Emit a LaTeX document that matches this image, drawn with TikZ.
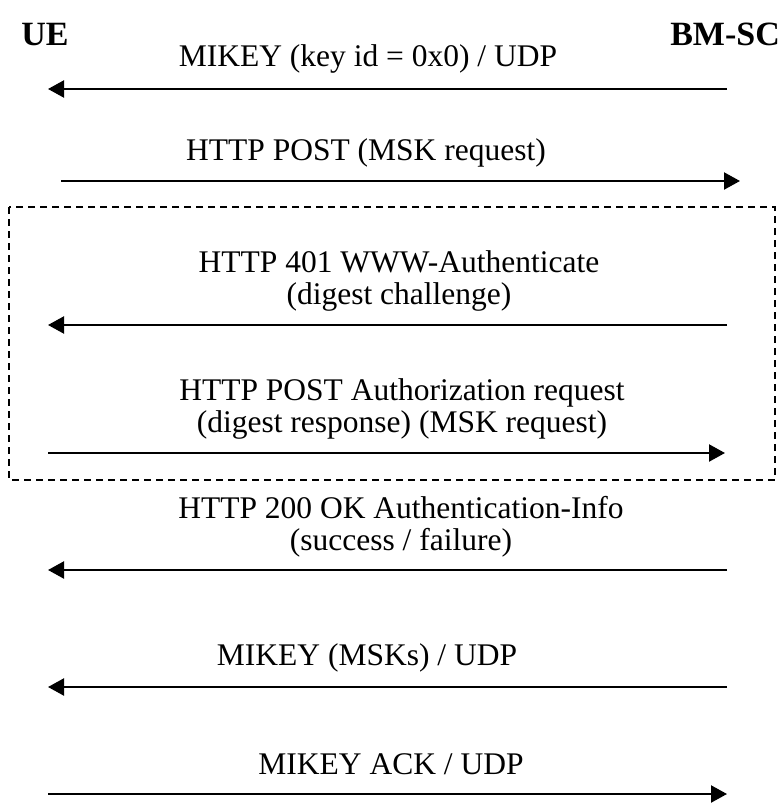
\documentclass[tikz,border=0pt]{standalone}
\usepackage{fontspec}
\setmainfont{Liberation Serif}
\usetikzlibrary{arrows.meta}
\begin{document}
\begin{tikzpicture}[x=1pt,y=-1pt,
  entity/.style={font=\fontsize{34}{36}\selectfont\bfseries, inner sep=0pt, anchor=base},
  msg/.style={font=\fontsize{31.5}{32}\selectfont, align=center, inner sep=0pt, anchor=base},
  flow/.style={line width=2.2pt, -{Triangle[length=16pt,width=17pt]}},
  group/.style={line width=1.4pt, dash pattern=on 7pt off 5pt}]
\useasboundingbox (0,0) rectangle (780,811);
% entities
\node[entity] (ue) at (45,45) {UE};
\node[entity, anchor=base east] (bmsc) at (780,45) {BM-SC};
% dashed group
\draw[group] (9,207) rectangle (775,480);
% endpoints
\coordinate (l1) at (48,89);  \coordinate (r1) at (727,89);
\coordinate (l2) at (61,181); \coordinate (r2) at (740,181);
\coordinate (l3) at (48,325); \coordinate (r3) at (727,325);
\coordinate (l4) at (48,453); \coordinate (r4) at (725,453);
\coordinate (l5) at (48,570); \coordinate (r5) at (727,570);
\coordinate (l6) at (48,687); \coordinate (r6) at (727,687);
\coordinate (l7) at (48,794); \coordinate (r7) at (727,794);
% labels (base = baseline of last line)
\node[msg] (m1) at (368,66) {MIKEY (key id = 0x0) / UDP};
\node[msg] (m2) at (366,160) {HTTP POST (MSK request)};
\node[msg] (m3) at (399,304) {HTTP 401 WWW-Authenticate\\(digest challenge)};
\node[msg] (m4) at (402,432) {HTTP POST Authorization request\\(digest response) (MSK request)};
\node[msg] (m5) at (401,550) {HTTP 200 OK Authentication-Info\\(success / failure)};
\node[msg] (m6) at (367,665) {MIKEY (MSKs) / UDP};
\node[msg] (m7) at (391,774) {MIKEY ACK / UDP};
% arrows
\draw[flow] (r1) -- (l1);
\draw[flow] (l2) -- (r2);
\draw[flow] (r3) -- (l3);
\draw[flow] (l4) -- (r4);
\draw[flow] (r5) -- (l5);
\draw[flow] (r6) -- (l6);
\draw[flow] (l7) -- (r7);
\end{tikzpicture}
\end{document}
